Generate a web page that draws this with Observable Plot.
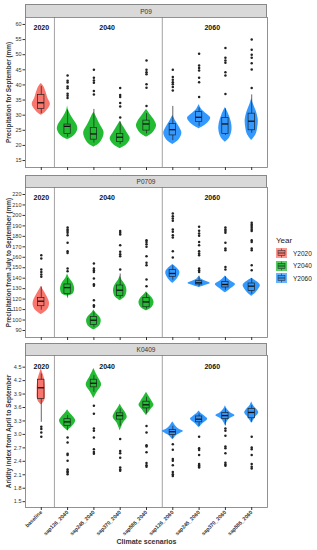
<!DOCTYPE html>
<html>
<head>
<meta charset="utf-8">
<script src="https://cdn.jsdelivr.net/npm/d3@7"></script>
<script src="https://cdn.jsdelivr.net/npm/@observablehq/plot@0.6"></script>
<style>
  body { margin: 0; background: #fff; font-family: "Liberation Sans", Arial, sans-serif; }
  #root { position: relative; width: 317px; height: 550px; overflow: hidden; background: #fff; }
  .strip { position: absolute; left: 25px; width: 242px; background: #d9d9d9; border: 0.6px solid #888; box-sizing: border-box;
           font-size: 6.5px; color: #333; text-align: center; }
  .pl { position: absolute; left: 0; }
  .pl svg g[aria-label="y-axis label"] text, .pl svg g[aria-label="x-axis label"] text { font-weight: bold; }
  .pl svg g[aria-label="y-axis label"] { font-size: 6.4px; }
  .pl svg g[aria-label="x-axis label"] { font-size: 7px; }
  .pl svg g[aria-label="x-axis tick label"] { font-weight: bold; }
  #legend { position: absolute; left: 276px; top: 236px; font-size: 6.5px; color: #222; }
  #legend .title { font-size: 8px; margin-bottom: 2px; }
  #legend .row { display: flex; align-items: center; height: 12.5px; }
  #legend .row span { margin-left: 6px; }
</style>
</head>
<body>
<div id="root"></div>
<script>
// ---------- shared categories ----------
const scenarios = ["baseline","sap126_2040","sap245_2040","sap370_2040","sap585_2040","sap126_2060","sap245_2060","sap370_2060","sap585_2060"];
const yearOfScenario = ["Y2020","Y2040","Y2040","Y2040","Y2040","Y2060","Y2060","Y2060","Y2060"];
const yearNames = ["Y2020","Y2040","Y2060"];
const yearColors = ["#F8766D","#22BB33","#3399FF"];
const groupLabels = ["2020","2040","2060"];
const separators = [1.5, 5.6];

// ---------- P09 ----------
const p09Ticks = [15,20,25,30,35,40,45,50,55,60];
const p09Domain = [12.7, 62.3];
const p09Low  = [30.5,22.7,20.8,20.3,23.8,21.6,26.3,23.3,24.0];
const p09Q1   = [32.1,23.8,21.9,21.1,24.9,23.3,27.7,23.8,25.0];
const p09Med  = [34.1,26.3,23.8,22.7,27.1,25.2,29.3,27.1,28.0];
const p09Q3   = [36.7,26.9,25.8,23.8,28.2,27.1,31.0,29.1,30.5];
const p09High = [39.5,31.6,31.9,27.8,30.5,32.9,32.4,32.1,36.7];
const p09Outliers = [
  [],
  [43.1,41.4,40.8,39.5,38.9,37.1,36.4,35.7],
  [45,42.4,41.5,40.7,38,36.8],
  [39,36.7,36,34,32.9,29.2],
  [48.1,45,44.2,43.5,40.2,39.1,33],
  [45,42.6,41.7,40.9,40.2,39.3,38.2],
  [50.3,46.4,45.6,44.8,42.4,40.9,36],
  [52.2,49,48.1,47.3,44.2,43.1,37],
  [55,51.6,50,49,47.2,45.1,39]
];
const p09Violins = [
  [[30,0],[31,0.35],[32.5,0.65],[33.8,0.75],[35.5,0.55],[37.5,0.4],[39.5,0.2],[40.5,0]],
  [[21.9,0],[23,0.5],[25,0.83],[26.5,0.8],[28.5,0.5],[30.5,0.2],[32,0.05],[33,0]],
  [[19.4,0],[20.8,0.5],[23,0.8],[24.5,0.83],[27,0.5],[29.5,0.2],[31,0]],
  [[18.9,0],[20.3,0.55],[22.2,0.83],[24,0.6],[26,0.3],[28,0]],
  [[22.7,0],[24,0.5],[26.3,0.83],[28,0.7],[30,0.35],[32,0]],
  [[20.3,0],[21.8,0.5],[24,0.75],[26,0.55],[28,0.25],[30,0]],
  [[25.5,0],[27,0.6],[29,0.96],[30.5,0.6],[32,0.2],[33.5,0]],
  [[21,0],[22.5,0.35],[25,0.54],[27.5,0.5],[30,0.3],[32.5,0]],
  [[21.6,0],[23.5,0.35],[26,0.5],[28.5,0.54],[31,0.4],[33.5,0.15],[35.5,0]]
];

// ---------- P0709 ----------
const p0709Ticks = [90,100,110,120,130,140,150,160,170,180,190,200,210,220];
const p0709Domain = [83.3, 226.7];
const p0709Low  = [109.4,121,93,120.5,110.5,138.1,131.7,128.5,124.7];
const p0709Q1   = [113.2,124.8,95.2,123,112.2,141.3,134,131.1,127.9];
const p0709Med  = [118,131,99.8,128.5,117.3,144.5,135.6,134,132.4];
const p0709Q3   = [121.1,134,103,133,121.1,147.7,137.1,136.5,134.9];
const p0709High = [131.7,139.7,107.8,144,125.4,151.8,141.9,141.3,139.7];
const p0709Outliers = [
  [162,158.8,148.3,146,143.5,141.3],
  [188.4,186.5,185,183.4,181,173.8,165.8,164.2,149.3,146.7],
  [154,149.3,147.7,146,139.7,134.3,132.7,119,114.2,112.6],
  [185,183.4,181.8,171.6,165.2,163,161,148.3],
  [176.3,174.7,172.5,170,161,154.7,152.4,138.7,132.4],
  [201.8,199.3,197,194.8,186.5,184.3,181.1,178.9,165.8,159.8],
  [189.1,185.3,182.7,180.5,174.7,171.6,165.8,163.6,162,149.3,147.7,146],
  [188.4,186.5,185,183.4,173.8,168.4,166.8,150.8,148.3],
  [193,191.4,189.8,188.2,186.6,185,176.3,174.7,168.4,166.8,152.4,147.7]
];
const p0709Violins = [
  [[105,0],[109,0.45],[114,0.67],[118,0.65],[123,0.45],[128,0.2],[132,0]],
  [[123,0],[125,0.45],[129,0.58],[132,0.55],[136,0.4],[140,0.15],[144,0]],
  [[90.5,0],[94,0.45],[98,0.6],[101,0.58],[104,0.4],[107,0.15],[109.6,0]],
  [[118.5,0],[122,0.4],[126,0.54],[130,0.54],[134,0.4],[138,0.15],[142,0]],
  [[108.7,0],[112,0.45],[116,0.62],[119,0.58],[122,0.4],[125,0.15],[127,0]],
  [[135,0],[139,0.35],[143,0.55],[146,0.58],[149,0.4],[153,0]],
  [[131,0],[133,0.5],[135,0.92],[137,0.55],[139,0.2],[141.5,0]],
  [[126,0],[129,0.35],[132,0.7],[134,0.83],[136,0.6],[139,0.25],[142,0]],
  [[122.5,0],[126,0.35],[130,0.6],[133,0.71],[136,0.5],[140,0]]
];

// ---------- K0409 ----------
const k0409Ticks = [1.5,1.8,2.1,2.4,2.7,3.0,3.3,3.6,3.9,4.2,4.5];
const k0409Domain = [1.37, 4.76];
const k0409Low  = [3.27,3.08,3.94,3.18,3.46,2.90,3.18,3.19,3.27];
const k0409Q1   = [3.79,3.19,4.05,3.33,3.58,2.99,3.27,3.34,3.36];
const k0409Med  = [4.04,3.28,4.14,3.42,3.66,3.06,3.34,3.42,3.49];
const k0409Q3   = [4.22,3.34,4.22,3.47,3.73,3.10,3.40,3.48,3.57];
const k0409High = [4.35,3.42,4.31,3.57,3.83,3.18,3.46,3.57,3.64];
const k0409Outliers = [
  [3.17,3.12,3.04,2.95],
  [2.93,2.82,2.57,2.54,2.41,2.22,2.18,2.15,2.11],
  [3.64,3.46,3.13,3.08,2.93,2.67,2.61,2.57],
  [2.9,2.63,2.58,2.48,2.26,2.22,2.19],
  [3.19,3.04,2.76,2.73,2.6,2.36,2.31,2.28],
  [2.78,2.66,2.45,2.41,2.31,2.16,2.11,2.07],
  [2.95,2.69,2.65,2.54,2.34,2.31,2.28,2.26],
  [3.13,3.08,2.97,2.73,2.69,2.58,2.37,2.33,2.3],
  [2.95,2.71,2.67,2.54,2.34,2.28,2.24]
];
const k0409Violins = [
  [[3.66,0],[3.72,0.2],[3.8,0.33],[3.95,0.34],[4.1,0.33],[4.25,0.25],[4.38,0.1],[4.47,0]],
  [[3.08,0],[3.18,0.4],[3.3,0.67],[3.4,0.45],[3.5,0.12],[3.55,0]],
  [[3.8,0],[3.95,0.3],[4.08,0.62],[4.15,0.6],[4.3,0.3],[4.47,0]],
  [[3.08,0],[3.25,0.25],[3.38,0.58],[3.48,0.45],[3.6,0.15],[3.68,0]],
  [[3.42,0],[3.55,0.35],[3.65,0.62],[3.72,0.5],[3.85,0.2],[3.94,0]],
  [[2.88,0],[2.98,0.35],[3.07,0.87],[3.12,0.5],[3.2,0.2],[3.28,0]],
  [[3.15,0],[3.25,0.35],[3.34,0.71],[3.4,0.5],[3.46,0.2],[3.52,0]],
  [[3.2,0],[3.33,0.3],[3.42,0.79],[3.48,0.45],[3.56,0.15],[3.64,0]],
  [[3.25,0],[3.38,0.3],[3.48,0.58],[3.55,0.45],[3.64,0.15],[3.73,0]]
];

// ---------- drawing ----------
const positions = scenarios.map((s, i) => i + 1);
const VH = 0.46;   // violin half-width per unit density (x units)
const BH = 0.12;   // box half-width (x units)
const groupCenters = groupLabels.map(g => d3.mean(positions.filter((p, i) => yearOfScenario[i] === "Y" + g)));

function panel(cfg) {
  const boxes = scenarios.map((s, i) => ({pos: i + 1, year: yearOfScenario[i],
    lo: cfg.low[i], q1: cfg.q1[i], med: cfg.med[i], q3: cfg.q3[i], hi: cfg.high[i]}));
  const vpts = cfg.violins.flatMap((prof, i) => prof.map(([v, d]) => ({pos: i + 1, year: yearOfScenario[i], v, d})));
  const opts = cfg.outliers.flatMap((arr, i) => arr.map(v => ({pos: i + 1, v})));
  const marks = [
    Plot.ruleX(separators, {stroke: "#8a8a8a", strokeWidth: 0.8}),
    Plot.areaX(vpts, {y: "v", x1: d => d.pos - d.d * VH, x2: d => d.pos + d.d * VH, z: "pos", fill: "year", curve: "catmull-rom"}),
    Plot.ruleX(boxes, {x: "pos", y1: "lo", y2: "hi", stroke: "#222", strokeWidth: 0.7}),
    Plot.rect(boxes, {x1: d => d.pos - BH, x2: d => d.pos + BH, y1: "q1", y2: "q3", fill: "year", stroke: "#222", strokeWidth: 0.7}),
    Plot.ruleY(boxes, {y: "med", x1: d => d.pos - BH, x2: d => d.pos + BH, stroke: "#111", strokeWidth: 1.3}),
    Plot.dot(opts, {x: "pos", y: "v", r: 1.25, fill: "#222"}),
    Plot.text(groupLabels, {x: (d, i) => groupCenters[i], frameAnchor: "top", dy: cfg.labelDy, text: d => d, fontWeight: "bold", fontSize: 7, fill: "#111"}),
    Plot.frame({stroke: "#777", strokeWidth: 0.8}),
    Plot.axisY({ticks: cfg.ticks, tickFormat: cfg.tickFormat, tickSize: 2.5, tickPadding: 1.5,
      label: cfg.label, labelAnchor: "center", labelOffset: 19, labelArrow: "none"}),
    cfg.bottom
      ? Plot.axisX({ticks: positions, tickFormat: p => scenarios[p - 1], tickRotate: -45, tickSize: 3, tickPadding: 1,
          label: "Climate scenarios", labelAnchor: "center", labelOffset: 36, labelArrow: "none", fontSize: 5.3})
      : Plot.axisX({ticks: positions, tickFormat: () => "", tickSize: 3, label: null})
  ];
  return Plot.plot({
    width: 317, height: cfg.height,
    marginLeft: 25, marginRight: 50, marginTop: 0, marginBottom: cfg.marginBottom,
    style: {fontSize: "5.5px", fontFamily: "Liberation Sans, Arial, sans-serif", color: "#333", background: "#fff", overflow: "visible"},
    x: {domain: [0.4, 9.6]},
    y: {domain: cfg.domain},
    color: {domain: yearNames, range: yearColors},
    marks
  });
}

const root = document.getElementById("root");
function addStrip(text, top, h) {
  const d = document.createElement("div");
  d.className = "strip"; d.style.top = top + "px"; d.style.height = h + "px"; d.style.lineHeight = h + "px";
  d.textContent = text; root.appendChild(d);
}
function addPlot(svg, top) {
  const w = document.createElement("div");
  w.className = "pl"; w.style.top = top + "px"; w.appendChild(svg); root.appendChild(w);
}

addStrip("P09", 4, 13.5);
addPlot(panel({ticks: p09Ticks, domain: p09Domain, label: "Precipitation for September (mm)",
  low: p09Low, q1: p09Q1, med: p09Med, q3: p09Q3, high: p09High, outliers: p09Outliers, violins: p09Violins,
  height: 155, marginBottom: 5, labelDy: 8, bottom: false}), 17);

addStrip("P0709", 175, 12.5);
addPlot(panel({ticks: p0709Ticks, domain: p0709Domain, label: "Precipitation from July to September (mm)",
  low: p0709Low, q1: p0709Q1, med: p0709Med, q3: p0709Q3, high: p0709High, outliers: p0709Outliers, violins: p0709Violins,
  height: 155, marginBottom: 5, labelDy: 8, bottom: false}), 187);

addStrip("K0409", 343, 12.5);
addPlot(panel({ticks: k0409Ticks, tickFormat: d3.format(".1f"), domain: k0409Domain, label: "Aridity index from April to September",
  low: k0409Low, q1: k0409Q1, med: k0409Med, q3: k0409Q3, high: k0409High, outliers: k0409Outliers, violins: k0409Violins,
  height: 195, marginBottom: 43, labelDy: 9, bottom: true}), 355);

// legend
const lg = document.createElement("div");
lg.id = "legend";
lg.innerHTML = '<div class="title">Year</div>' + yearNames.map((y, i) =>
  '<div class="row"><svg width="11" height="10"><rect x="0" y="0" width="11" height="10" fill="' + yearColors[i] + '" opacity="0.75"/>' +
  '<line x1="5.5" y1="0.5" x2="5.5" y2="9.5" stroke="#333" stroke-width="0.6"/>' +
  '<rect x="2" y="2.5" width="7" height="5" fill="' + yearColors[i] + '" stroke="#333" stroke-width="0.6"/>' +
  '<line x1="2" y1="5" x2="9" y2="5" stroke="#333" stroke-width="0.9"/></svg><span>' + y + '</span></div>').join("");
root.appendChild(lg);
</script>
</body>
</html>
